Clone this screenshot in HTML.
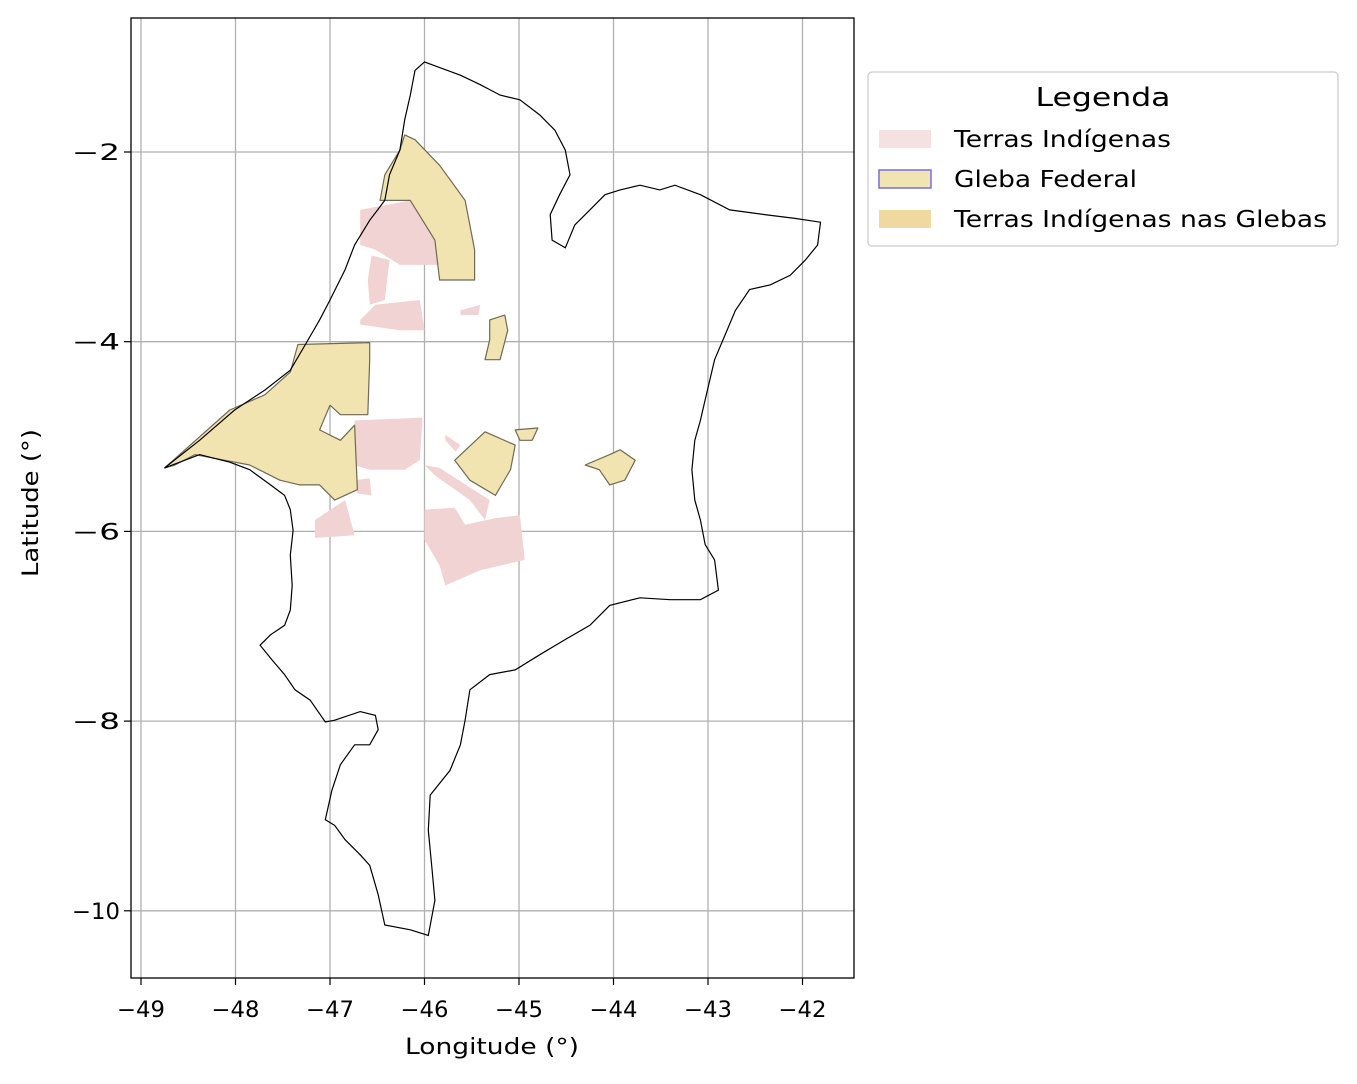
<!DOCTYPE html>
<html><head><meta charset="utf-8"><style>
body{margin:0;background:#fff;font-family:"DejaVu Sans","Liberation Sans",sans-serif;}
svg text{font-family:"DejaVu Sans","Liberation Sans",sans-serif;}
</style></head><body>
<svg id="chart" width="1357" height="1080" xmlns="http://www.w3.org/2000/svg"></svg>
<script>
const xTicks=[-49,-48,-47,-46,-45,-44,-43,-42];
const yTicks=[-2,-4,-6,-8,-10];
const stateOutline=[[-46.00,-1.05],[-45.84,-1.11],[-45.62,-1.19],[-45.41,-1.29],[-45.20,-1.40],[-44.99,-1.45],[-44.78,-1.61],[-44.62,-1.77],[-44.51,-1.98],[-44.46,-2.24],[-44.57,-2.45],[-44.67,-2.66],[-44.65,-2.93],[-44.51,-3.01],[-44.41,-2.77],[-44.25,-2.61],[-44.09,-2.45],[-43.93,-2.40],[-43.72,-2.35],[-43.51,-2.40],[-43.35,-2.35],[-43.08,-2.45],[-42.77,-2.61],[-42.40,-2.66],[-42.08,-2.70],[-41.81,-2.74],[-41.84,-2.98],[-41.97,-3.14],[-42.13,-3.30],[-42.34,-3.40],[-42.56,-3.45],[-42.71,-3.67],[-42.82,-3.93],[-42.93,-4.19],[-42.98,-4.40],[-43.03,-4.61],[-43.08,-4.83],[-43.14,-5.04],[-43.17,-5.35],[-43.14,-5.67],[-43.08,-5.88],[-43.03,-6.14],[-42.93,-6.30],[-42.89,-6.62],[-43.08,-6.72],[-43.40,-6.72],[-43.72,-6.70],[-44.04,-6.78],[-44.25,-6.99],[-44.51,-7.14],[-44.78,-7.30],[-45.04,-7.46],[-45.31,-7.51],[-45.52,-7.67],[-45.57,-7.99],[-45.62,-8.25],[-45.73,-8.52],[-45.94,-8.78],[-45.96,-9.15],[-45.92,-9.57],[-45.89,-9.89],[-45.96,-10.26],[-46.15,-10.20],[-46.42,-10.15],[-46.49,-9.83],[-46.58,-9.52],[-46.68,-9.41],[-46.84,-9.25],[-46.95,-9.10],[-47.05,-9.04],[-46.98,-8.73],[-46.89,-8.46],[-46.74,-8.25],[-46.58,-8.25],[-46.49,-8.09],[-46.52,-7.94],[-46.68,-7.90],[-46.95,-7.99],[-47.05,-8.01],[-47.21,-7.78],[-47.37,-7.67],[-47.48,-7.51],[-47.61,-7.36],[-47.74,-7.20],[-47.63,-7.09],[-47.48,-6.99],[-47.42,-6.83],[-47.40,-6.57],[-47.42,-6.25],[-47.39,-5.99],[-47.42,-5.77],[-47.48,-5.62],[-47.63,-5.51],[-47.85,-5.35],[-48.06,-5.27],[-48.38,-5.19],[-48.59,-5.27],[-48.75,-5.33],[-48.38,-5.04],[-48.01,-4.72],[-47.69,-4.51],[-47.42,-4.30],[-47.26,-4.03],[-47.11,-3.77],[-47.00,-3.56],[-46.84,-3.24],[-46.74,-2.98],[-46.58,-2.72],[-46.42,-2.51],[-46.37,-2.24],[-46.26,-1.98],[-46.21,-1.66],[-46.15,-1.40],[-46.10,-1.14]];
const indigenousLands=[
[[-46.68,-2.61],[-46.15,-2.51],[-45.89,-2.72],[-45.84,-3.19],[-46.26,-3.19],[-46.52,-3.03],[-46.68,-2.98]],
[[-46.56,-3.09],[-46.37,-3.14],[-46.42,-3.56],[-46.58,-3.61],[-46.60,-3.35]],
[[-46.68,-3.77],[-46.52,-3.61],[-46.05,-3.56],[-46.00,-3.88],[-46.26,-3.88],[-46.68,-3.82]],
[[-45.62,-3.67],[-45.41,-3.61],[-45.43,-3.72],[-45.62,-3.72]],
[[-46.74,-4.83],[-46.02,-4.80],[-46.05,-5.25],[-46.21,-5.35],[-46.58,-5.35],[-46.74,-5.30]],
[[-46.74,-5.46],[-46.58,-5.44],[-46.56,-5.62],[-46.71,-5.60]],
[[-45.78,-4.98],[-45.62,-5.09],[-45.67,-5.16],[-45.78,-5.04]],
[[-46.00,-5.30],[-45.84,-5.33],[-45.31,-5.67],[-45.36,-5.88],[-45.52,-5.67],[-45.89,-5.41]],
[[-47.16,-5.88],[-46.84,-5.67],[-46.74,-6.04],[-47.16,-6.07]],
[[-46.00,-5.77],[-45.68,-5.75],[-45.57,-5.93],[-45.25,-5.86],[-44.99,-5.83],[-44.94,-6.30],[-45.41,-6.41],[-45.78,-6.57],[-45.84,-6.36],[-46.00,-6.09]]];
const federalGlebas=[
[[-46.21,-1.82],[-46.10,-1.87],[-45.84,-2.14],[-45.57,-2.51],[-45.47,-3.03],[-45.47,-3.35],[-45.84,-3.35],[-45.89,-2.93],[-46.15,-2.51],[-46.47,-2.51],[-46.42,-2.24],[-46.26,-1.98]],
[[-45.31,-3.77],[-45.15,-3.72],[-45.12,-3.88],[-45.20,-4.19],[-45.36,-4.19],[-45.31,-3.98]],
[[-45.68,-5.25],[-45.36,-4.95],[-45.04,-5.09],[-45.09,-5.35],[-45.25,-5.62],[-45.52,-5.46]],
[[-44.30,-5.30],[-44.04,-5.19],[-43.93,-5.14],[-43.77,-5.25],[-43.88,-5.46],[-44.04,-5.51],[-44.15,-5.35]],
[[-45.04,-4.93],[-44.80,-4.91],[-44.86,-5.04],[-44.99,-5.04]],
[[-48.75,-5.33],[-48.06,-4.72],[-47.69,-4.56],[-47.42,-4.32],[-47.34,-4.03],[-46.58,-4.01],[-46.58,-4.19],[-46.60,-4.77],[-46.89,-4.77],[-47.00,-4.67],[-47.11,-4.93],[-46.89,-5.04],[-46.74,-4.88],[-46.71,-5.56],[-46.95,-5.67],[-47.11,-5.51],[-47.32,-5.51],[-47.53,-5.46],[-47.85,-5.30],[-48.11,-5.25],[-48.43,-5.19],[-48.64,-5.30]]];
const legendLabels=["Terras Indígenas","Gleba Federal","Terras Indígenas nas Glebas"];

const NS="http://www.w3.org/2000/svg";
const svg=document.getElementById('chart');
const L=131,R=854,T=18,B=978;
function xS(v){return 141+(v+49)*94.5;}
function yS(v){return 152-(v+2)*94.85;}
function mk(tag,attrs,parent){const e=document.createElementNS(NS,tag);for(const k in attrs)e.setAttribute(k,attrs[k]);(parent||svg).appendChild(e);return e;}
function pts(p){return p.map(q=>xS(q[0]).toFixed(1)+','+yS(q[1]).toFixed(1)).join(' ');}

xTicks.forEach(t=>{const g=mk('line',{x1:xS(t),x2:xS(t),y1:T,y2:B,stroke:'#b0b0b0','stroke-width':1.3});

});
yTicks.forEach(t=>{const g=mk('line',{x1:L,x2:R,y1:yS(t),y2:yS(t),stroke:'#b0b0b0','stroke-width':1.3});

});

indigenousLands.forEach(p=>{const e=mk('polygon',{points:pts(p),fill:'#f2d3d3',stroke:'none'});

});
federalGlebas.forEach(p=>{const e=mk('polygon',{points:pts(p),fill:'#f2e4b0',stroke:'#6e6a55','stroke-width':1.2,'stroke-linejoin':'round'});

});
const st=mk('polygon',{points:pts(stateOutline),fill:'none',stroke:'#000','stroke-width':1.2});



const fr=mk('rect',{x:L,y:T,width:R-L,height:B-T,fill:'none',stroke:'#000','stroke-width':1.3});



xTicks.forEach(t=>{mk('line',{x1:xS(t),x2:xS(t),y1:B,y2:B+7,stroke:'#000','stroke-width':1.2});
const tx=mk('text',{x:xS(t),y:B+39,'text-anchor':'middle','font-size':22,textLength:48,lengthAdjust:'spacingAndGlyphs'});tx.textContent='−'+Math.abs(t);

});
yTicks.forEach(t=>{mk('line',{x1:L-7,x2:L,y1:yS(t),y2:yS(t),stroke:'#000','stroke-width':1.2});
const s='−'+Math.abs(t);
const tx=mk('text',{x:L-11,y:yS(t)+8,'text-anchor':'end','font-size':22,textLength:s.length>3?62:48,lengthAdjust:'spacingAndGlyphs'});tx.textContent=s;

});

const xt=mk('text',{x:492,y:1054,'text-anchor':'middle','font-size':22,textLength:174,lengthAdjust:'spacingAndGlyphs'});xt.textContent='Longitude (°)';


const yt=mk('text',{x:38,y:503,'text-anchor':'middle','font-size':22,textLength:148,lengthAdjust:'spacingAndGlyphs',transform:'rotate(-90 38 503)'});yt.textContent='Latitude (°)';



const lg=mk('g',{});


mk('rect',{x:868,y:72,width:470,height:174,rx:4,fill:'#fff',stroke:'#cccccc','stroke-width':1.3},lg);
const lt=mk('text',{x:1103,y:106,'text-anchor':'middle','font-size':26,textLength:135,lengthAdjust:'spacingAndGlyphs'},lg);lt.textContent='Legenda';
const fills=['#f5e1e1','#f2e4b0','#f0d9a0'];const strokes=['none','#7070e0','none'];
const widths=[217,183,373];
legendLabels.forEach((s,i)=>{const y=130+i*40;
const r=mk('rect',{x:879,y:y,width:52,height:18,fill:fills[i],stroke:strokes[i],'stroke-width':1.5},lg);


const t=mk('text',{x:954,y:y+17,'font-size':23,textLength:widths[i],lengthAdjust:'spacingAndGlyphs'},lg);t.textContent=s;

});
</script>
</body></html>
